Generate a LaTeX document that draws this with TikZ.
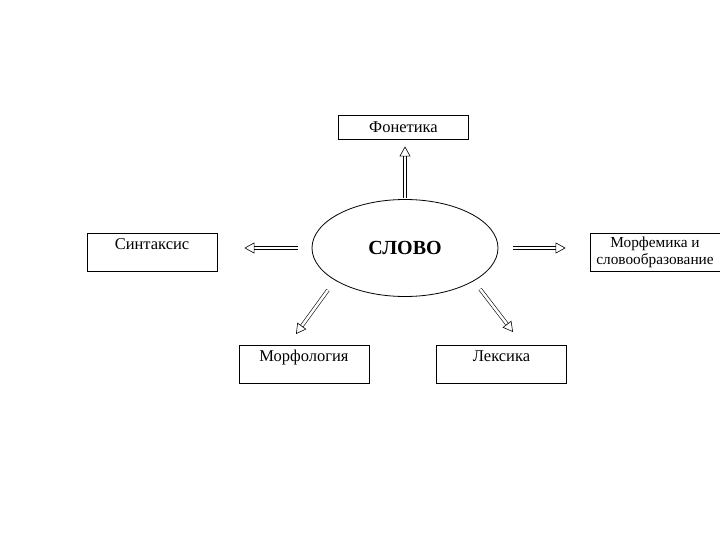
\documentclass[tikz,border=0pt]{standalone}
\usepackage{fontspec}
\setmainfont{Liberation Serif}
\usetikzlibrary{arrows.meta,shapes.geometric}

\tikzset{
  area/.style={draw, thick, minimum width=130pt, minimum height=24pt, inner sep=0pt, font=\fontsize{16.5}{18}\selectfont},
  areatop/.style={area, text height=11pt, text depth=17pt, inner ysep=5pt},
  hollow/.style={draw, double, double distance=2.5pt, line width=0.6pt, -{Triangle[open, length=10pt, width=11pt]}},
}

\begin{document}
\begin{tikzpicture}[x=1pt, y=-1pt]
\useasboundingbox (0,0) rectangle (720,540);

\node[draw, ellipse, thick, minimum width=186pt, minimum height=97pt, font=\fontsize{20}{22}\selectfont\bfseries] (slovo) at (405,248) {СЛОВО};
\node[area] (fonetika) at (403.5,127) {Фонетика};
\node[areatop] (sintaksis) at (152,252) {Синтаксис};
\node[area, minimum height=38pt, align=center, font=\fontsize{15.3}{17}\selectfont] (morfemika) at (655,252) {Морфемика и\\словообразование};
\node[areatop] (morfologiya) at (304,364) {Морфология};
\node[areatop] (leksika) at (501.5,364) {Лексика};

% diagonal arrow ends
\coordinate (mL1) at (328,290);
\coordinate (mL2) at (296,334);
\coordinate (mR1) at (480,289);
\coordinate (mR2) at (513,332);

\draw[hollow, shorten <=1pt, shorten >=7pt] (slovo.north) -- (slovo.north |- fonetika.south);
\draw[hollow, shorten <=14pt, shorten >=27pt] (slovo.west) -- (sintaksis.east |- slovo.west);
\draw[hollow, shorten <=15pt, shorten >=24pt] (slovo.east) -- (morfemika.west |- slovo.east);
\draw[hollow] (mL1) -- (mL2);
\draw[hollow] (mR1) -- (mR2);
\end{tikzpicture}
\end{document}
